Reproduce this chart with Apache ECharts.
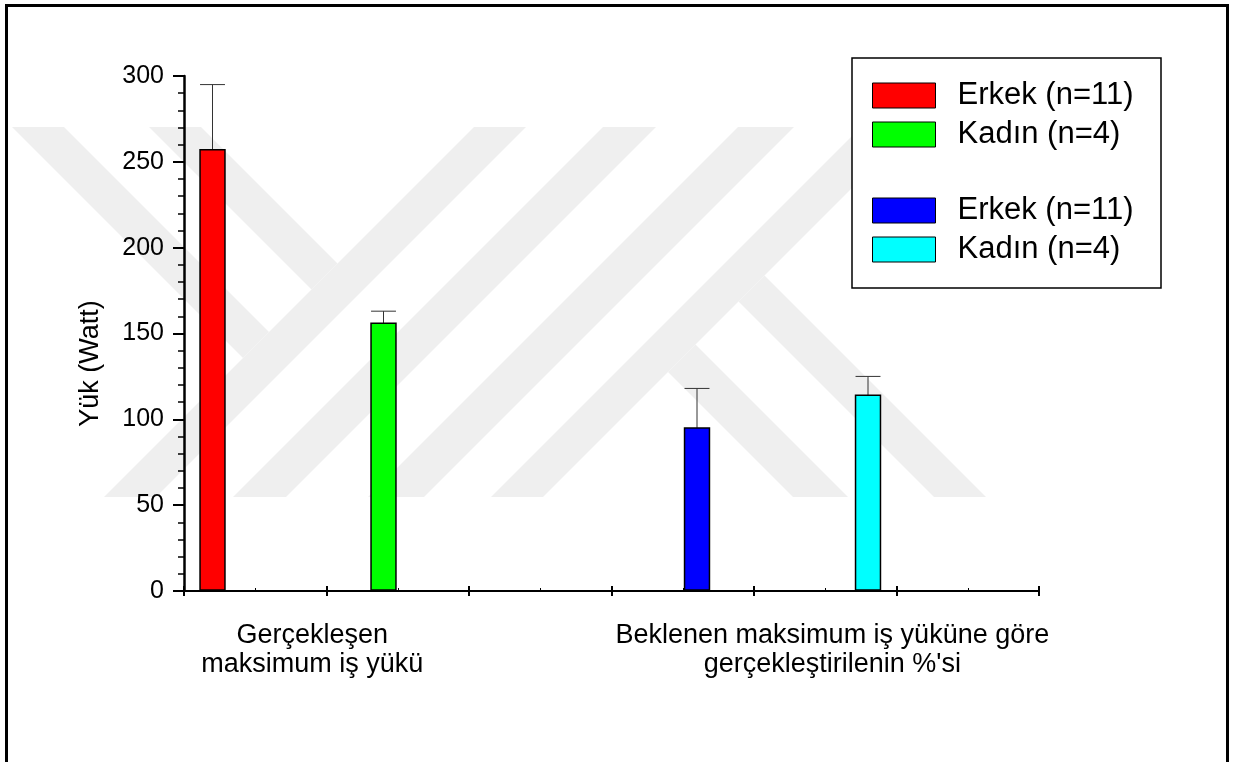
<!DOCTYPE html>
<html>
<head>
<meta charset="utf-8">
<title>Yük (Watt)</title>
<script src="https://cdn.jsdelivr.net/npm/echarts@6/dist/echarts.min.js"></script>
<style>
  html, body { margin: 0; padding: 0; background: #fff; }
  #chart { width: 1234px; height: 762px; }
</style>
</head>
<body>
<div id="chart"></div>
<script>
// Group captions shown under the x axis and where they sit on the slot scale
const groupLabels = ['Gerçekleşen\nmaksimum iş yükü', "Beklenen maksimum iş yüküne göre\ngerçekleştirilenin %'si"];
const groupLabelAt = [0.9, 4.55];

// One column per series: name, slot on the x scale, mean and SD (Watt)
const seriesNames = ['Erkek (n=11)', 'Kadın (n=4)', 'Erkek (n=11)', 'Kadın (n=4)'];
const slotX = [0.2, 1.4, 3.6, 4.8];
const meanLoad = [257, 156, 95, 114];
const sdLoad = [38, 7, 23, 11];

// y axis ticks
const yTicks = [0, 50, 100, 150, 200, 250, 300];

const colors = ['#ff0000', '#00ff00', '#0000ff', '#00ffff'];
const FONT = 'Arial, "Liberation Sans", sans-serif';
const COLUMN_WIDTH = 0.175; // in x-axis units

function renderColumn(params, api) {
  const x = api.value(0);
  const v = api.value(1);
  const e = api.value(2);
  const base = api.coord([x, 0]);
  const top = api.coord([x, v]);
  const cap = api.coord([x, v + e]);
  const w = api.size([COLUMN_WIDTH, 0])[0];
  return {
    type: 'group',
    children: [
      { type: 'line', shape: { x1: top[0], y1: top[1], x2: cap[0], y2: cap[1] },
        style: { stroke: '#333', lineWidth: 1 } },
      { type: 'line', shape: { x1: cap[0] - w / 2, y1: cap[1], x2: cap[0] + w / 2, y2: cap[1] },
        style: { stroke: '#333', lineWidth: 1 } },
      { type: 'rect', shape: { x: base[0] - w / 2, y: top[1], width: w, height: base[1] - top[1] - 1 },
        style: { fill: api.visual('color'), stroke: '#000', lineWidth: 1.5 } }
    ]
  };
}

const series = seriesNames.map((name, i) => ({
  name: name,
  type: 'custom',
  renderItem: renderColumn,
  itemStyle: { color: colors[i] },
  encode: { x: 0, y: 1 },
  data: [[slotX[i], meanLoad[i], sdLoad[i]]],
  z: 5
}));

function legendBlock(idx, top) {
  return {
    orient: 'vertical',
    left: 872,
    top: top,
    padding: 0,
    itemWidth: 63,
    itemHeight: 25,
    itemGap: 8,
    icon: 'rect',
    selectedMode: false,
    textStyle: { fontFamily: FONT, fontSize: 31, color: '#000', lineHeight: 25, padding: [0, 0, 0, 17] },
    data: idx.map(i => ({
      name: seriesNames[i],
      itemStyle: { color: colors[i], borderColor: '#000', borderWidth: 1 }
    }))
  };
}

// Pale page watermark behind the plot: diagonal stripes, built from
// lines x + y = c ('/') and x - y = c ('\') between y = 127 and y = 497.
const WM_TOP = 127, WM_BOTTOM = 497;
function slashBand(a, b) {
  return [[a - WM_TOP, WM_TOP], [b - WM_TOP, WM_TOP], [b - WM_BOTTOM, WM_BOTTOM], [a - WM_BOTTOM, WM_BOTTOM]];
}
function backUpper(p, q, s) { // '\' band from the top edge down to the '/' line x + y = s
  return [[p + WM_TOP, WM_TOP], [q + WM_TOP, WM_TOP], [(q + s) / 2, (s - q) / 2], [(p + s) / 2, (s - p) / 2]];
}
function backLower(p, q, s) { // '\' band from the '/' line x + y = s down to the bottom edge
  return [[(p + s) / 2, (s - p) / 2], [(q + s) / 2, (s - q) / 2], [q + WM_BOTTOM, WM_BOTTOM], [p + WM_BOTTOM, WM_BOTTOM]];
}
const watermark = [
  backUpper(-115, -63, 601), backUpper(22, 74, 601),
  slashBand(601, 653), slashBand(730, 783), slashBand(865, 921), slashBand(988, 1040),
  backLower(296, 351, 1040), backLower(437, 489, 1040)
].map(points => ({
  type: 'polygon', shape: { points: points }, silent: true, z: -10,
  style: { fill: '#efefef', stroke: null }
}));

const chart = echarts.init(document.getElementById('chart'), null, { renderer: 'canvas' });
chart.setOption({
  backgroundColor: '#fff',
  animation: false,
  grid: { left: 184, top: 76, width: 855, height: 515, containLabel: false },
  legend: [legendBlock([0, 1], 80), legendBlock([2, 3], 195)],
  xAxis: [
    {
      type: 'value', min: 0, max: 6, interval: 1, position: 'bottom',
      axisLine: { show: true, onZero: false, lineStyle: { color: '#000', width: 2 } },
      axisTick: { show: true, length: 5, lineStyle: { color: '#000', width: 2 } },
      splitLine: { show: false },
      axisLabel: {
        show: true, margin: 30, customValues: groupLabelAt,
        fontFamily: FONT, fontSize: 27, lineHeight: 29, color: '#000', align: 'center',
        formatter: v => groupLabels[groupLabelAt.indexOf(v)]
      }
    },
    {
      type: 'value', min: 0, max: 6, interval: 1, position: 'bottom', offset: 0,
      axisLine: { show: false },
      axisTick: { show: true, inside: true, length: 5, lineStyle: { color: '#000', width: 2 } },
      minorTick: { show: true, splitNumber: 2, length: 3, lineStyle: { color: '#000', width: 1 } },
      splitLine: { show: false },
      axisLabel: { show: false }
    }
  ],
  yAxis: {
    type: 'value', min: yTicks[0], max: yTicks[yTicks.length - 1], interval: 50,
    name: 'Yük (Watt)', nameLocation: 'middle', nameGap: 80, nameRotate: 90,
    nameTextStyle: { fontFamily: FONT, fontSize: 27, color: '#000', padding: [0, 60, 0, 0] },
    axisLine: { show: true, lineStyle: { color: '#000', width: 2.5 } },
    axisTick: { show: true, length: 11, lineStyle: { color: '#000', width: 2 } },
    minorTick: { show: true, splitNumber: 5, length: 6, lineStyle: { color: '#000', width: 1.5 } },
    splitLine: { show: false },
    axisLabel: { margin: 20, fontFamily: FONT, fontSize: 25, color: '#000' }
  },
  graphic: watermark.concat([
    { type: 'rect', shape: { x: 6.5, y: 5.5, width: 1221, height: 800 },
      style: { fill: null, stroke: '#000', lineWidth: 3 }, silent: true },
    { type: 'rect', shape: { x: 852, y: 58, width: 309, height: 230 },
      style: { fill: '#fff', stroke: '#000', lineWidth: 1.5 }, silent: true, z: -1 }
  ]),
  series: series
});
</script>
</body>
</html>
